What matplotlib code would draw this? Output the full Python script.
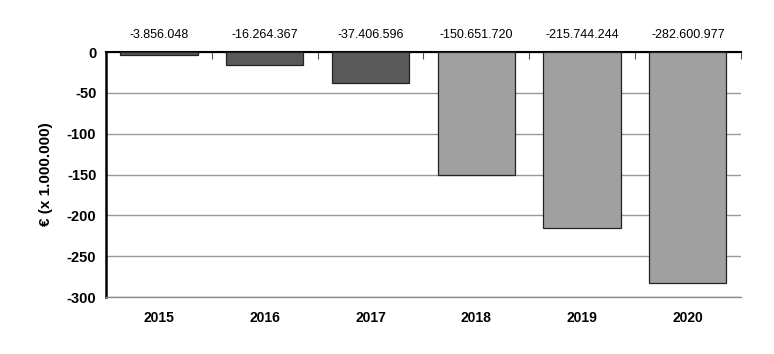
import numpy as np
import matplotlib.pyplot as plt

plt.rcParams['font.family'] = ['Liberation Sans', 'DejaVu Sans']
plt.rcParams['axes.unicode_minus'] = False

years = ['2015', '2016', '2017', '2018', '2019', '2020']
values_eur = [-3856048, -16264367, -37406596, -150651720, -215744244, -282600977]
value_labels = ['-3.856.048', '-16.264.367', '-37.406.596',
                '-150.651.720', '-215.744.244', '-282.600.977']
bar_colors = ['#595959', '#595959', '#595959', '#a0a0a0', '#a0a0a0', '#a0a0a0']

values_m = np.array(values_eur) / 1e6
x = np.arange(len(years))

fig = plt.figure(figsize=(7.74, 3.54), dpi=100)
ax = fig.add_axes([0.137, 0.161, 0.82, 0.692])

ax.bar(x, values_m, width=0.73, color=bar_colors, edgecolor='#222222',
       linewidth=0.9, zorder=3)

ax.set_xlim(-0.5, len(years) - 0.5)
ax.set_ylim(-300, 0)
ax.set_yticks(np.arange(-300, 1, 50))
ax.yaxis.grid(True, color='#999999', linewidth=1, zorder=0)
ax.set_axisbelow(True)

ax.set_xticks(x)
ax.set_xticklabels(years, fontsize=10, fontweight='bold')
ax.tick_params(axis='x', length=0, pad=10)
ax.tick_params(axis='y', length=0, pad=7, labelsize=10.5)
for lbl in ax.get_yticklabels():
    lbl.set_fontweight('bold')

# small ticks between categories hanging from the zero line
ax.set_xticks(np.arange(0.5, len(years), 1), minor=True)
ax.tick_params(axis='x', which='minor', top=True, bottom=False,
               direction='in', length=5, width=0.8, color='#555555')

ax.spines['right'].set_visible(False)
ax.spines['top'].set_linewidth(1.5)
ax.spines['left'].set_linewidth(1.8)
ax.spines['bottom'].set_color('#8c8c8c')
ax.spines['bottom'].set_linewidth(1)

ax.set_ylabel('€ (x 1.000.000)', fontsize=11, fontweight='bold', labelpad=10)

for xi, lab in zip(x, value_labels):
    ax.text(xi, 1.07, lab, transform=ax.get_xaxis_transform(),
            ha='center', va='center', fontsize=9)

fig.savefig('out.png', dpi=100)
